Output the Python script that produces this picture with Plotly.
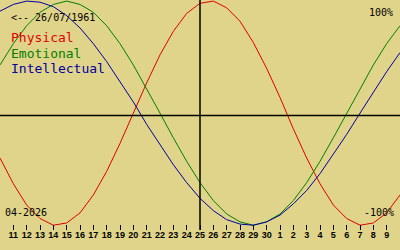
import plotly.graph_objects as go

# Dates shown (10 Apr 2026 .. 10 May 2026), one sample per day
dates = ["2026-04-%02d" % d for d in range(10, 31)] + ["2026-05-%02d" % d for d in range(1, 11)]
day_labels = [str(int(d[-2:])) for d in dates]

physical = [-0.40, -0.63, -0.82, -0.94, -1.00, -0.98, -0.89, -0.73, -0.52, -0.27,
            0.00, 0.27, 0.52, 0.73, 0.89, 0.98, 1.00, 0.94, 0.82, 0.63,
            0.40, 0.14, -0.14, -0.40, -0.63, -0.82, -0.94, -1.00, -0.98, -0.89, -0.73]
emotional = [0.43, 0.62, 0.78, 0.90, 0.97, 1.00, 0.97, 0.90, 0.78, 0.62,
             0.43, 0.22, 0.00, -0.22, -0.43, -0.62, -0.78, -0.90, -0.97, -1.00,
             -0.97, -0.90, -0.78, -0.62, -0.43, -0.22, 0.00, 0.22, 0.43, 0.62, 0.78]
intellectual = [0.91, 0.97, 1.00, 0.99, 0.95, 0.87, 0.76, 0.62, 0.46, 0.28,
                0.10, -0.10, -0.28, -0.46, -0.62, -0.76, -0.87, -0.95, -0.99, -1.00,
                -0.97, -0.91, -0.81, -0.69, -0.54, -0.37, -0.19, 0.00, 0.19, 0.37, 0.54]

series_names = ["Physical", "Emotional", "Intellectual"]
series_colors = ["#e00000", "#008000", "#0000a0"]
center_date = "2026-04-25"
birth_label = "<-- 26/07/1961"
month_label = "04-2026"

W, H, B = 400, 250, 20
PH = H - B

fig = go.Figure()
for name, vals, col in zip(series_names, [physical, emotional, intellectual], series_colors):
    fig.add_trace(go.Scatter(x=dates, y=vals, mode="lines", name=name,
                             line=dict(color=col, width=1), showlegend=False))

def py(p):
    return 1 - p / PH

# axes lines
fig.add_shape(type="line", xref="paper", yref="paper", x0=0, x1=1, y0=py(115.5), y1=py(115.5),
              line=dict(color="black", width=1.5))
fig.add_shape(type="line", xref="x", yref="paper", x0=center_date, x1=center_date, y0=0, y1=1,
              line=dict(color="black", width=1.5))

mono = "DejaVu Sans Mono"
anns = [
    dict(text=birth_label, x=10 / W, y=py(17), size=10, color="black", xanchor="left"),
    dict(text=series_names[0], x=10 / W, y=py(38), size=13, color=series_colors[0], xanchor="left"),
    dict(text=series_names[1], x=10 / W, y=py(53), size=13, color=series_colors[1], xanchor="left"),
    dict(text=series_names[2], x=10 / W, y=py(68), size=13, color=series_colors[2], xanchor="left"),
    dict(text="100%", x=394 / W, y=py(12), size=10, color="black", xanchor="right"),
    dict(text="-100%", x=395 / W, y=py(212.5), size=10, color="black", xanchor="right"),
    dict(text=month_label, x=4 / W, y=py(212), size=10, color="black", xanchor="left"),
]
for a in anns:
    fig.add_annotation(text=a["text"], x=a["x"], y=a["y"], xref="paper", yref="paper",
                       xanchor=a["xanchor"], yanchor="middle", showarrow=False,
                       font=dict(family=mono, size=a["size"], color=a["color"]),
                       borderpad=0)

fig.update_layout(
    width=W, height=H,
    margin=dict(l=0, r=0, t=0, b=B, pad=0),
    paper_bgcolor="#e0d48a", plot_bgcolor="#e0d48a",
    xaxis=dict(type="date", range=[dates[0], dates[-1]], tickvals=dates[1:-1],
               ticktext=day_labels[1:-1], ticks="inside", ticklen=5, tickwidth=1,
               tickcolor="black", showgrid=False, zeroline=False, showline=False,
               tickfont=dict(family="Liberation Sans", size=9, color="black", weight="bold"),
               ticklabelstandoff=-2),
    yaxis=dict(range=[-1.0427, 1.0096], showgrid=False, zeroline=False,
               showticklabels=False, ticks="", showline=False),
)

fig.write_html("out.html")
